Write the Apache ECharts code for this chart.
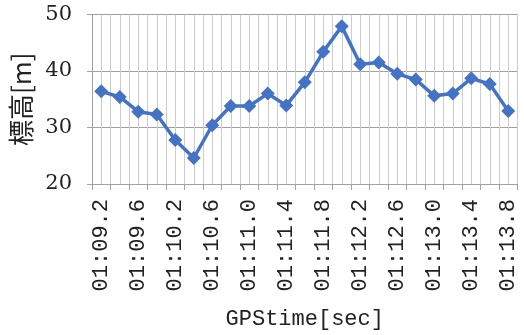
<!DOCTYPE html>
<html>
<head>
<meta charset="utf-8">
<script src="https://cdn.jsdelivr.net/npm/echarts@6/dist/echarts.min.js"></script>
<style>
  html, body { margin: 0; padding: 0; background: #fff; }
  #chart { width: 524px; height: 335px; }
</style>
</head>
<body>
<div id="chart"></div>
<script>
// GPS timestamps (mm:ss.s) and elevation readings
const gpsTimes = [
  '01:09.2', '01:09.4', '01:09.6', '01:10.0', '01:10.2', '01:10.4',
  '01:10.6', '01:10.8', '01:11.0', '01:11.2', '01:11.4', '01:11.6',
  '01:11.8', '01:12.0', '01:12.2', '01:12.4', '01:12.6', '01:12.8',
  '01:13.0', '01:13.2', '01:13.4', '01:13.6', '01:13.8'
];
const elevation = [
  36.4, 35.4, 32.8, 32.3, 27.8, 24.6,
  30.4, 33.8, 33.8, 36.0, 33.9, 38.0,
  43.4, 47.9, 41.2, 41.5, 39.5, 38.5,
  35.6, 36.0, 38.7, 37.7, 32.9
];
const yTicks = { min: 20, max: 50, step: 10 };

const chart = echarts.init(document.getElementById('chart'), null, { renderer: 'canvas' });

const monoFont = '"Liberation Mono", "DejaVu Sans Mono", monospace';
const serifFont = '"DejaVu Serif", "Liberation Serif", serif';

chart.setOption({
  animation: false,
  backgroundColor: '#ffffff',
  grid: { left: 92, right: 6.5, top: 14.5, bottom: 148.5, containLabel: false },
  xAxis: [
    {
      type: 'category',
      data: gpsTimes,
      boundaryGap: true,
      name: 'GPStime[sec]',
      nameLocation: 'middle',
      nameGap: 124,
      nameTextStyle: { fontFamily: monoFont, fontSize: 22, color: '#222' },
      axisLine: { show: true, lineStyle: { color: '#a0a0a0', width: 1 } },
      axisTick: { show: true, interval: 0, length: 6, inside: false, lineStyle: { color: '#a0a0a0' } },
      axisLabel: {
        interval: 1,
        rotate: 90,
        margin: 15,
        fontFamily: monoFont,
        fontSize: 22,
        color: '#222'
      },
      splitLine: { show: false }
    },
    {
      // half-category vertical grid
      type: 'value',
      min: 0,
      max: gpsTimes.length * 2,
      interval: 1,
      position: 'bottom',
      axisLine: { show: false },
      axisTick: { show: false },
      axisLabel: { show: false },
      splitLine: { show: true, lineStyle: { color: '#cccccc', width: 1 } }
    }
  ],
  yAxis: {
    type: 'value',
    min: yTicks.min,
    max: yTicks.max,
    interval: yTicks.step,
    name: '標高[m]',
    nameLocation: 'middle',
    nameGap: 56,
    nameRotate: 90,
    nameTextStyle: {
      fontFamily: '"Noto Sans CJK JP", ' + monoFont,
      fontSize: 26,
      color: '#222'
    },
    axisLine: { show: true, lineStyle: { color: '#a0a0a0', width: 1 } },
    axisTick: { show: true, length: 5, lineStyle: { color: '#a0a0a0' } },
    axisLabel: { margin: 20, fontFamily: serifFont, fontSize: 21, color: '#222' },
    splitLine: { show: true, lineStyle: { color: '#a0a0a0', width: 1 } }
  },
  series: [{
    type: 'line',
    xAxisIndex: 0,
    data: elevation,
    symbol: 'diamond',
    symbolSize: 14,
    showAllSymbol: true,
    lineStyle: { color: '#4472C4', width: 3.5 },
    itemStyle: { color: '#4472C4' },
    z: 5
  }]
});
</script>
</body>
</html>
